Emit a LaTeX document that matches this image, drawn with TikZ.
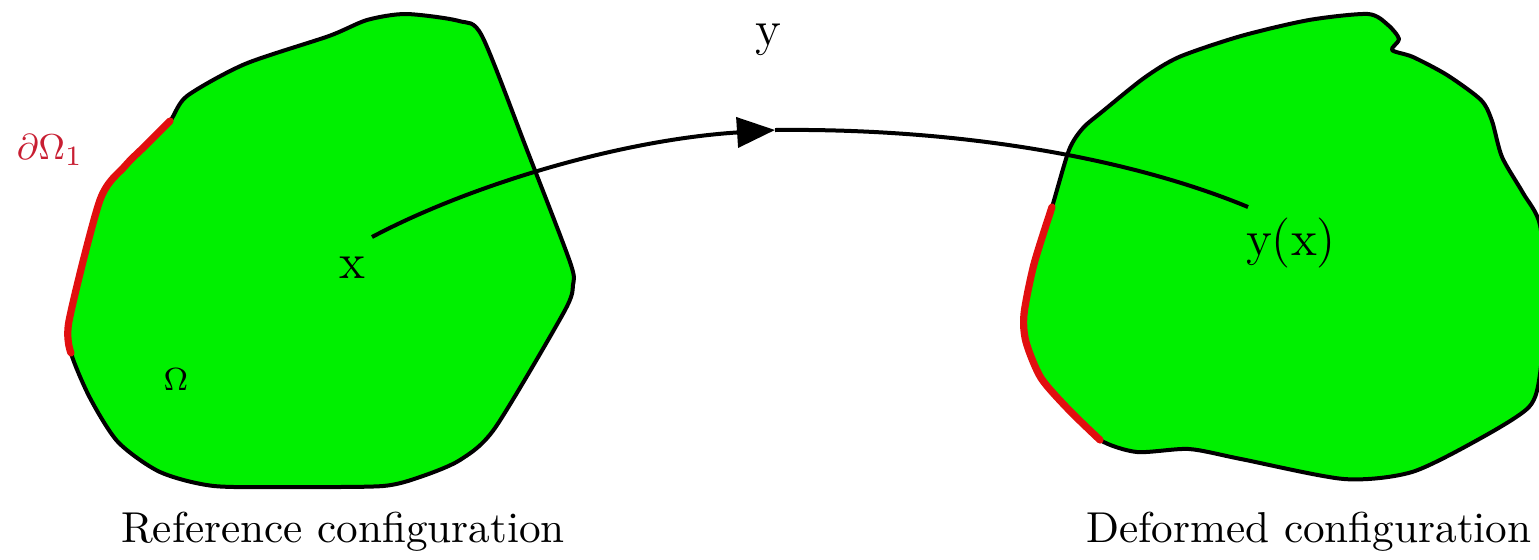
\documentclass[tikz,border=0pt]{standalone}
\usetikzlibrary{arrows.meta}
\definecolor{shapegreen}{RGB}{0,240,0}
\definecolor{bred}{RGB}{225,15,15}
\definecolor{lred}{RGB}{200,30,50}
\begin{document}
\begin{tikzpicture}[x=0.25pt,y=-0.25pt,
  outline/.style={draw=black,line width=1pt,line join=round},
  redpart/.style={draw=bred,line width=1.8pt,line cap=round},
  conn/.style={draw=black,line width=1pt},
  lbl/.style={inner sep=0pt,font=\fontsize{12.5}{14}\selectfont},
  captext/.style={inner sep=0pt,font=\fontsize{10.8}{13}\selectfont}]
\clip (0,0) rectangle (1539,559);
\useasboundingbox (0,0) rectangle (1539,559);
% reference shape
\path[fill=shapegreen,outline] plot[smooth cycle,tension=0.45] coordinates {
 (170,121) (187,96) (245,64) (329,36) (367,20) (406,14) (459,21) (482,36)
 (527,150) (570,262) (573,285) (564,312) (495,428) (460,460) (420,477)
 (383,486) (300,487) (214,486) (160,472) (118,442) (90,398) (71,353) (69,321)
 (100,200) (125,166) (145,146)};
\draw[redpart] plot[smooth,tension=0.45] coordinates {
 (71,353) (69,321) (100,200) (125,166) (145,146) (170,121)};
% deformed shape
\path[fill=shapegreen,outline] plot[smooth cycle,tension=0.45] coordinates {
 (1052,207) (1069,150) (1083,128) (1103,111) (1144,78) (1179,57) (1241,36)
 (1309,20) (1368,14) (1388,25) (1399,39) (1392,50) (1413,57) (1447,75)
 (1481,100) (1492,121) (1502,157) (1523,193) (1540,225) (1545,300)
 (1540,374) (1529,407) (1481,438) (1412,472) (1344,479) (1241,459)
 (1189,449) (1137,452) (1100,440) (1069,410) (1041,378)
 (1026,342) (1024,314) (1034,264)};
\draw[redpart] plot[smooth,tension=0.45] coordinates {
 (1100,440) (1069,410) (1041,378) (1026,342) (1024,314) (1034,264) (1052,207)};
% connector
\coordinate (xpt) at (372,237);
\coordinate (tip) at (775,130);
\coordinate (ypt) at (1248,207);
\draw[conn,-{Triangle[length=9.5pt,width=7.5pt]}] (xpt) .. controls (470,185) and (620,140) .. (tip);
\draw[conn] (tip) .. controls (960,128) and (1130,158) .. (ypt);
% labels
\node[lbl] (xl) at (352,268) {x};
\node[lbl] (yl) at (768,40) {y};
\node[lbl] (yx) at (1291,243) {y(x)};
\node[inner sep=0pt,font=\fontsize{8}{10}\selectfont] (om) at (176,380) {$\Omega$};
\node[inner sep=0pt,text=lred,font=\fontsize{9.5}{11}\selectfont] (dom) at (50,150) {$\partial\Omega_1$};
\node[captext] (rc) at (343,532) {Reference configuration};
\node[captext] (dc) at (1309,532) {Deformed configuration};
\end{tikzpicture}
\end{document}
